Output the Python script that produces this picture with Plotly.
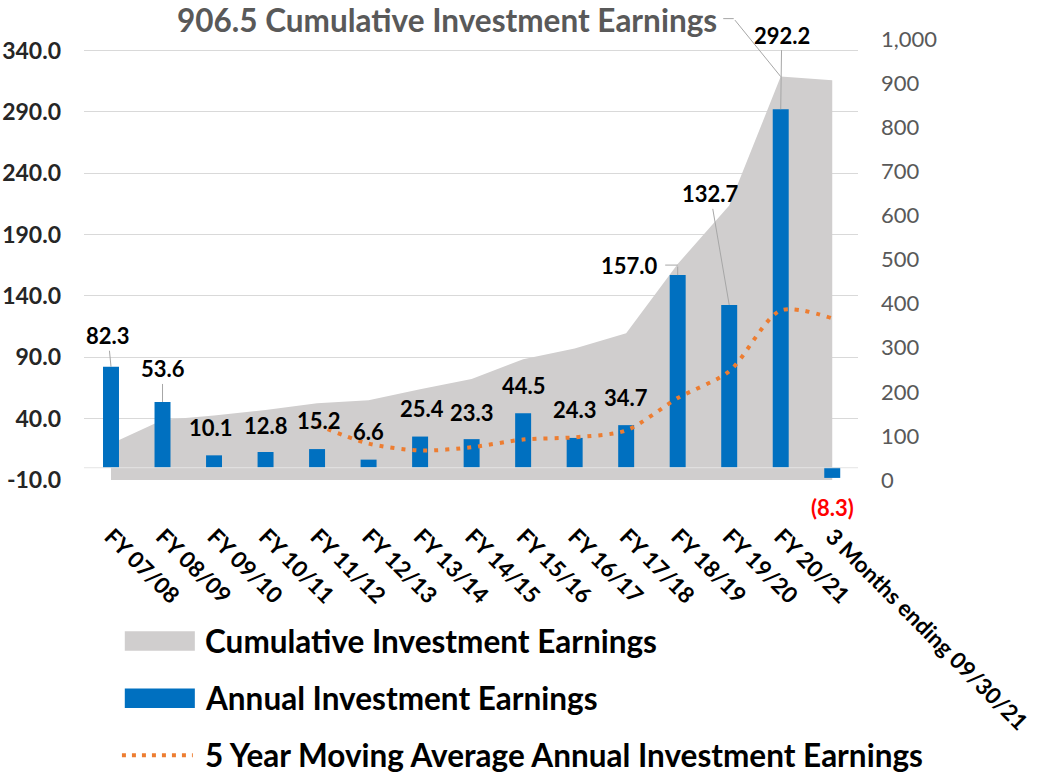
import plotly.graph_objects as go

categories = ["FY 07/08", "FY 08/09", "FY 09/10", "FY 10/11", "FY 11/12", "FY 12/13",
              "FY 13/14", "FY 14/15", "FY 15/16", "FY 16/17", "FY 17/18", "FY 18/19",
              "FY 19/20", "FY 20/21", "3 Months ending 09/30/21"]
annual = [82.3, 53.6, 10.1, 12.8, 15.2, 6.6, 25.4, 23.3, 44.5, 24.3, 34.7, 157.0, 132.7, 292.2, -8.3]
annual_labels = ["82.3", "53.6", "10.1", "12.8", "15.2", "6.6", "25.4", "23.3", "44.5", "24.3",
                 "34.7", "157.0", "132.7", "292.2", "(8.3)"]
cumulative = [82.3, 135.9, 146.0, 158.8, 174.0, 180.6, 206.0, 229.3, 273.8, 298.1, 332.8,
              489.8, 622.5, 914.7, 906.5]
moving_avg = [None, None, None, None, 34.8, 19.7, 14.0, 16.7, 23.0, 24.8, 30.4, 56.8, 78.6, 128.2, 121.7]
left_ticks = [-10, 40, 90, 140, 190, 240, 290, 340]
left_tick_labels = ["-10.0", "40.0", "90.0", "140.0", "190.0", "240.0", "290.0", "340.0"]
right_ticks = [0, 100, 200, 300, 400, 500, 600, 700, 800, 900, 1000]
right_tick_labels = ["0", "100", "200", "300", "400", "500", "600", "700", "800", "900", "1,000"]
title_text = "906.5 Cumulative Investment Earnings"

FONT = "Lato"
GRAY = "#D0CECE"
BLUE = "#0070C0"
ORANGE = "#ED7D31"
LEADER = "#A6A6A6"

fig = go.Figure()
fig.add_trace(go.Scatter(x=categories, y=cumulative, name="Cumulative Investment Earnings",
                         mode="lines", fill="tozeroy", fillcolor=GRAY,
                         line=dict(width=0, color=GRAY), yaxis="y", showlegend=False))
fig.add_trace(go.Bar(x=categories, y=annual, name="Annual Investment Earnings",
                     marker=dict(color=BLUE, line=dict(width=0)), width=0.31,
                     yaxis="y2", showlegend=False))
fig.add_trace(go.Scatter(x=categories, y=moving_avg,
                         name="5 Year Moving Average Annual Investment Earnings",
                         mode="lines", line=dict(color=ORANGE, width=4, dash="4px,7px",
                                                 shape="spline", smoothing=0.8),
                         yaxis="y2", showlegend=False, connectgaps=False))

label_font = dict(family=FONT, size=22, color="#000000", weight="bold")

# plain labels: (index, xshift, yshift)
plain = [(2, -3, 28), (3, 0, 27), (4, 2, 29), (5, 0, 28), (6, 2, 28), (7, 0, 27),
         (8, 1, 28), (9, 0, 28), (10, 0, 28)]
for i, dx, dy in plain:
    fig.add_annotation(x=categories[i], y=annual[i], yref="y2", text=annual_labels[i],
                       showarrow=False, xshift=dx, yshift=dy, font=label_font,
                       xanchor="center", yanchor="middle")

# labels with leader lines: (index, ax, ay)
leadered = [(0, -3, -31), (1, 0, -33), (12, -19, -111), (13, 1, -74)]
for i, ax, ay in leadered:
    fig.add_annotation(x=categories[i], y=annual[i], yref="y2", text=annual_labels[i],
                       showarrow=True, arrowhead=0, arrowwidth=1, arrowcolor=LEADER,
                       ax=ax, ay=ay, font=label_font, standoff=0, startstandoff=0)

# 157.0 with elbow leader
fig.add_annotation(x=categories[11], y=annual[11], yref="y2", text=annual_labels[11],
                   showarrow=False, xshift=-48, yshift=10, font=label_font)
fig.add_annotation(x=categories[11], y=annual[11], yref="y2", text="",
                   showarrow=True, arrowhead=0, arrowwidth=1, arrowcolor=LEADER, ax=0, ay=-10)
fig.add_annotation(x=categories[11], y=annual[11], yref="y2", text="", yshift=10,
                   showarrow=True, arrowhead=0, arrowwidth=1, arrowcolor=LEADER, ax=-14, ay=0)

# negative label
fig.add_annotation(x=categories[14], y=annual[14], yref="y2", text=annual_labels[14],
                   showarrow=False, yshift=-30, xshift=0,
                   font=dict(family=FONT, size=22, color="#FF0000", weight="bold"))

# leader from title to cumulative peak
fig.add_annotation(x=categories[13], y=cumulative[13], yref="y", text="",
                   showarrow=True, arrowhead=0, arrowwidth=1, arrowcolor=LEADER, ax=-47, ay=-58)
fig.add_annotation(x=categories[13], y=cumulative[13], yref="y", text="", xshift=-47, yshift=58,
                   showarrow=True, arrowhead=0, arrowwidth=1, arrowcolor=LEADER, ax=-12, ay=0)

# category axis line at zero
fig.add_shape(type="line", xref="paper", x0=0, x1=1, yref="y2", y0=0, y1=0,
              line=dict(color="#E4E4E4", width=1), layer="above")

# manual legend
legend_items = [
    ("Cumulative Investment Earnings", "rect", GRAY, -0.365),
    ("Annual Investment Earnings", "rect", BLUE, -0.495),
    ("5 Year Moving Average Annual Investment Earnings", "line", ORANGE, -0.624),
]
for text, kind, color, yc in legend_items:
    if kind == "rect":
        fig.add_shape(type="rect", xref="paper", yref="paper", x0=0.0527, x1=0.1432,
                      y0=yc - 0.022, y1=yc + 0.022, fillcolor=color, line=dict(width=0))
    else:
        fig.add_shape(type="line", xref="paper", yref="paper", x0=0.049, x1=0.1406,
                      y0=yc, y1=yc, line=dict(color=color, width=4, dash="4px,6px"))
    fig.add_annotation(xref="paper", yref="paper", x=0.1535, y=yc, text=text,
                       showarrow=False, xanchor="left", yanchor="middle",
                       font=dict(family=FONT, size=31.5, color="#000000", weight="bold"))

fig.update_layout(
    width=1038, height=776,
    margin=dict(l=84, r=180, t=39, b=296, autoexpand=False),
    paper_bgcolor="white", plot_bgcolor="white",
    showlegend=False,
    title=dict(text=title_text, x=177 / 1038, xanchor="left", xref="container",
               y=1 - 21 / 776, yanchor="middle", automargin=False,
               font=dict(family=FONT, size=31.5, color="#595959", weight="bold")),
    xaxis=dict(type="category", tickangle=45, showgrid=False, showline=False, zeroline=False,
               ticks="", ticklabelstandoff=38, automargin=False,
               tickfont=dict(family=FONT, size=22.5, color="#000000", weight="bold")),
    yaxis=dict(side="right", range=[0, 1000], tickvals=right_ticks, ticktext=right_tick_labels,
               showgrid=False, zeroline=False, showline=False, ticks="",
               ticklabelstandoff=22, automargin=False,
               tickfont=dict(family=FONT, size=22, color="#595959")),
    yaxis2=dict(side="left", overlaying="y", range=[-10, 349.4], tickvals=left_ticks,
                ticktext=left_tick_labels, showgrid=True, gridcolor="#D9D9D9", gridwidth=1,
                zeroline=False, showline=False, ticks="", ticklabelstandoff=22,
                automargin=False,
                tickfont=dict(family=FONT, size=23, color="#262626", weight="bold")),
)

fig.write_html("out.html", config={"displayModeBar": False},
               post_script="document.body.style.margin='0px';document.body.style.overflow='hidden';")
